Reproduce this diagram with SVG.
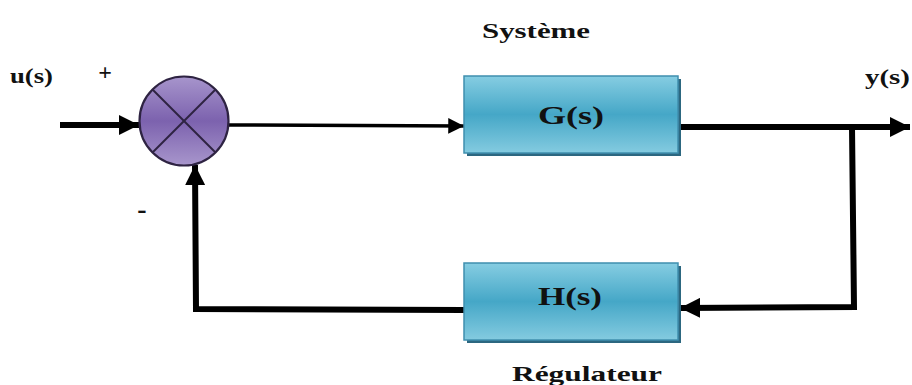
<svg xmlns="http://www.w3.org/2000/svg" width="912" height="385" viewBox="0 0 912 385">
<style>
.lbl{font-family:"Liberation Serif","Times New Roman",serif;font-weight:bold;fill:#111}
.box{fill:url(#boxg);stroke:#3f8fae;stroke-width:1.5}
.shadow{fill:#2c6780}
.wire{fill:none;stroke:#000;stroke-width:6;stroke-linejoin:miter}
.thin{fill:none;stroke:#000;stroke-width:3.5}
</style>
<defs>
<linearGradient id="boxg" x1="0" y1="0" x2="0" y2="1">
<stop offset="0" stop-color="#86cde2"/>
<stop offset="0.5" stop-color="#45a7c7"/>
<stop offset="1" stop-color="#84cbe0"/>
</linearGradient>
<linearGradient id="circg" x1="0" y1="0" x2="0" y2="1">
<stop offset="0" stop-color="#a795cc"/>
<stop offset="0.5" stop-color="#7c62ae"/>
<stop offset="1" stop-color="#a896cc"/>
</linearGradient>
<marker id="ah" viewBox="0 0 10 10" refX="10" refY="5" markerWidth="3.4" markerHeight="3.4" markerUnits="strokeWidth" orient="auto">
<path d="M0,0 L10,5 L0,10 z" fill="#000"/>
</marker>
<marker id="ahs" viewBox="0 0 10 10" refX="10" refY="5" markerWidth="4.5" markerHeight="4.5" markerUnits="strokeWidth" orient="auto">
<path d="M0,0 L10,5 L0,10 z" fill="#000"/>
</marker>
</defs>
<rect width="912" height="385" fill="#fff"/>

<g id="connectors">
<line class="wire" x1="60" y1="125" x2="139" y2="125" marker-end="url(#ah)"/>
<line class="thin" x1="228" y1="125" x2="464" y2="126" marker-end="url(#ahs)"/>
<polyline class="wire" points="679,127 852,127 910,127" marker-end="url(#ah)"/>
<polyline class="wire" points="852,127 854,307 680,308" marker-end="url(#ah)"/>
<polyline class="wire" points="464,310 196,309 195,165" marker-end="url(#ah)"/>
</g>

<g id="sum">
<circle cx="184" cy="121" r="44.5" fill="url(#circg)" stroke="#2e2342" stroke-width="2.2"/>
<line x1="152.5" y1="89.5" x2="215.5" y2="152.5" stroke="#2e2342" stroke-width="2"/>
<line x1="215.5" y1="89.5" x2="152.5" y2="152.5" stroke="#2e2342" stroke-width="2"/>
</g>

<g id="G">
<rect class="shadow" x="467" y="79" width="214" height="77"/>
<rect class="box" x="464" y="76" width="214" height="77"/>
<text class="lbl" x="571" y="124" font-size="25" text-anchor="middle" textLength="66" lengthAdjust="spacingAndGlyphs">G(s)</text>
</g>

<g id="H">
<rect class="shadow" x="467" y="266" width="214" height="77"/>
<rect class="box" x="464" y="263" width="214" height="77"/>
<text class="lbl" x="570" y="305" font-size="25" text-anchor="middle" textLength="64" lengthAdjust="spacingAndGlyphs">H(s)</text>
</g>

<g id="labels">
<text class="lbl" x="482" y="38" font-size="20" textLength="108" lengthAdjust="spacingAndGlyphs">Système</text>
<text class="lbl" x="512" y="381" font-size="21" textLength="150" lengthAdjust="spacingAndGlyphs">Régulateur</text>
<text class="lbl" x="10" y="83" font-size="21" textLength="43" lengthAdjust="spacingAndGlyphs">u(s)</text>
<text class="lbl" x="865" y="84" font-size="21" textLength="45" lengthAdjust="spacingAndGlyphs">y(s)</text>
<text class="lbl" x="105" y="80" font-size="24" text-anchor="middle">+</text>
<text class="lbl" x="142" y="218" font-size="28" text-anchor="middle">-</text>
</g>
</svg>
